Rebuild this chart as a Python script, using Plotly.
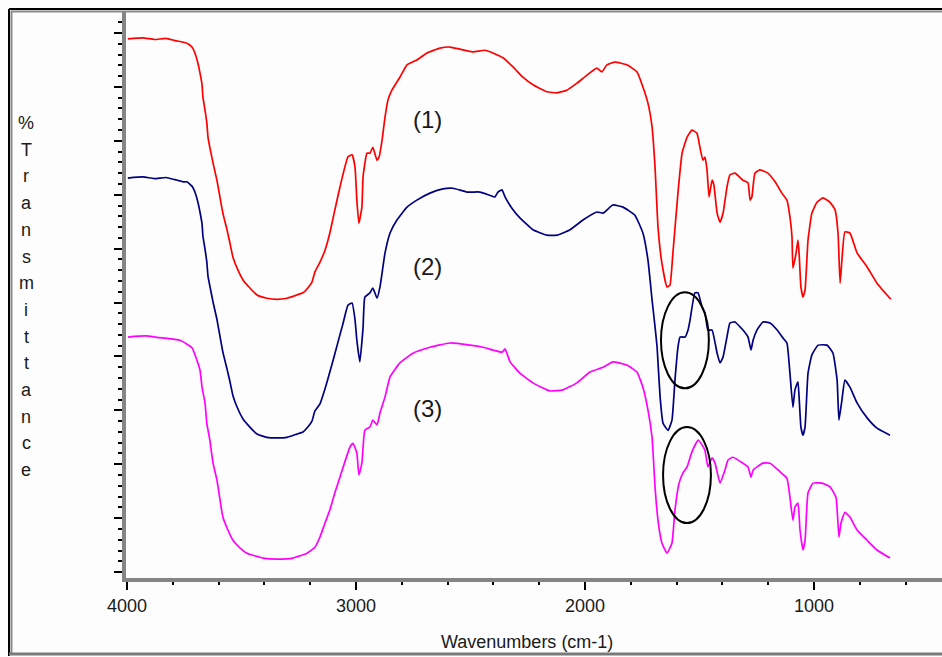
import plotly.graph_objects as go

# ---------------- data ----------------
wn1 = [3996, 3930, 3880, 3830, 3790, 3755, 3738, 3716, 3703, 3690, 3681, 3672, 3668, 3659, 3651, 3646,
       3638, 3624, 3607, 3594, 3581, 3563, 3550, 3537, 3515, 3493, 3463, 3432, 3389, 3345, 3301,
       3258, 3231, 3210, 3192, 3179, 3157, 3135, 3114, 3092, 3070, 3035, 3017, 3004, 2996, 2987,
       2974, 2969, 2952, 2939, 2926, 2908, 2899, 2886, 2873, 2860, 2843, 2808, 2777, 2734, 2690,
       2633, 2589, 2546, 2489, 2437, 2402, 2358, 2314, 2271, 2227, 2166, 2122, 2079, 2035, 1991,
       1948, 1926, 1904, 1869, 1817, 1773, 1747, 1725, 1707, 1694, 1681, 1664, 1642, 1629, 1616,
       1594, 1576, 1554, 1533, 1511, 1498, 1485, 1476, 1467, 1458, 1445, 1437, 1423, 1410, 1397,
       1380, 1367, 1345, 1310, 1288, 1279, 1271, 1258, 1236, 1201, 1170, 1140, 1118, 1105, 1096,
       1092, 1078, 1070, 1065, 1057, 1048, 1039, 1026, 1009, 987, 961, 930, 908, 895, 886, 878,
       865, 843, 812, 768, 725, 664]
t1 = [98.9, 99.1, 98.8, 99.0, 98.6, 98.3, 98.1, 97.4, 96.3, 94.4, 92.6, 90.4, 88.1, 85.7, 83.3, 80.7,
      78.8, 75.9, 72.7, 69.6, 66.6, 63.5, 61.0, 58.4, 56.0, 54.2, 52.7, 51.4, 50.8, 50.6, 50.8,
      51.4, 51.8, 52.7, 53.8, 55.7, 57.5, 59.7, 62.9, 67.2, 71.4, 77.0, 77.4, 75.1, 69.0, 64.7,
      67.7, 73.3, 77.7, 77.7, 78.8, 76.4, 77.0, 80.1, 84.4, 87.6, 89.4, 91.8, 94.1, 95.0, 96.3,
      97.2, 97.4, 97.0, 96.5, 96.8, 96.3, 95.4, 93.7, 91.8, 90.4, 89.1, 88.9, 89.4, 90.7, 92.2,
      93.5, 92.8, 94.1, 94.6, 94.1, 92.8, 90.0, 87.0, 82.6, 75.1, 64.0, 57.3, 52.9, 53.2, 59.2,
      70.3, 77.7, 80.7, 82.0, 81.4, 78.8, 76.4, 77.0, 74.6, 69.6, 72.7, 71.8, 66.6, 64.9, 66.6,
      71.4, 73.7, 74.0, 72.7, 72.2, 69.0, 69.6, 74.0, 74.6, 74.0, 72.4, 70.3, 69.0, 65.9, 62.2,
      56.4, 59.2, 61.6, 59.2, 52.9, 51.0, 52.3, 61.6, 66.6, 68.6, 69.4, 68.6, 67.2, 62.9, 53.6, 57.9,
      63.1, 62.9, 59.2, 56.6, 53.6, 50.6]

wn2 = [3996, 3930, 3880, 3830, 3790, 3755, 3738, 3716, 3703, 3690, 3681, 3672, 3668, 3659, 3651, 3646,
       3638, 3624, 3607, 3594, 3581, 3563, 3550, 3537, 3515, 3493, 3463, 3432, 3389, 3345, 3301,
       3258, 3231, 3210, 3192, 3179, 3157, 3135, 3114, 3092, 3070, 3057, 3035, 3017, 3004, 2996,
       2983, 2969, 2961, 2939, 2926, 2908, 2895, 2873, 2851, 2821, 2777, 2734, 2677, 2620, 2576,
       2515, 2458, 2415, 2393, 2380, 2362, 2349, 2319, 2284, 2227, 2166, 2122, 2065, 2009, 1948,
       1921, 1878, 1834, 1782, 1747, 1725, 1707, 1694, 1685, 1672, 1659, 1637, 1620, 1607, 1594,
       1585, 1563, 1550, 1541, 1520, 1506, 1489, 1476, 1463, 1445, 1423, 1410, 1397, 1380, 1367,
       1345, 1323, 1310, 1288, 1275, 1266, 1249, 1223, 1192, 1161, 1135, 1118, 1105, 1092, 1083,
       1070, 1065, 1057, 1048, 1039, 1026, 1009, 982, 943, 917, 899, 891, 878, 865, 843, 812, 768,
       725, 668]
t2 = [73.1, 73.3, 73.0, 73.2, 72.8, 72.4, 72.4, 71.6, 70.5, 68.6, 66.8, 64.6, 62.3, 59.9, 57.5, 54.9,
      53.1, 50.1, 46.9, 43.8, 40.8, 37.7, 35.3, 32.7, 30.2, 28.4, 26.9, 25.6, 25.0, 24.9, 25.0,
      25.6, 26.0, 26.9, 28.0, 29.9, 31.2, 34.0, 37.1, 40.5, 44.0, 46.0, 49.5, 49.9, 46.8, 43.0,
      39.0, 45.3, 51.0, 51.8, 52.7, 50.8, 52.9, 59.2, 62.9, 65.3, 67.7, 69.0, 70.3, 71.1, 71.2,
      70.5, 70.5, 69.9, 69.6, 70.5, 70.9, 69.6, 67.5, 65.7, 63.5, 62.5, 62.5, 63.5, 65.3, 66.8,
      66.6, 68.1, 67.7, 66.2, 62.9, 57.9, 50.5, 45.5, 41.7, 32.5, 27.6, 26.3, 28.2, 35.6, 41.7,
      43.6, 43.6, 44.9, 46.8, 51.8, 51.8, 49.2, 48.1, 44.9, 44.9, 40.6, 38.8, 39.9, 43.6, 46.2,
      46.4, 45.5, 44.9, 43.6, 41.2, 43.0, 44.9, 46.4, 46.2, 44.9, 43.4, 42.5, 36.9, 30.6, 33.8,
      35.3, 32.5, 26.9, 25.4, 26.9, 36.9, 40.3, 42.1, 42.1, 40.6, 35.6, 28.2, 31.9, 35.6, 34.3, 31.4,
      28.6, 26.7, 25.4]

wn3 = [3996, 3920, 3860, 3768, 3716, 3681, 3672, 3659, 3651, 3638, 3624, 3607, 3581, 3559, 3537, 3507,
       3476, 3406, 3345, 3275, 3214, 3179, 3157, 3135, 3114, 3092, 3070, 3026, 3013, 2996, 2987,
       2974, 2961, 2939, 2926, 2908, 2895, 2873, 2851, 2808, 2751, 2677, 2589, 2502, 2445, 2402,
       2362, 2349, 2327, 2284, 2227, 2153, 2096, 2035, 1978, 1921, 1878, 1817, 1773, 1747, 1725,
       1707, 1694, 1681, 1664, 1642, 1620, 1607, 1589, 1572, 1554, 1533, 1515, 1506, 1489, 1476,
       1463, 1445, 1432, 1410, 1389, 1375, 1354, 1310, 1288, 1275, 1266, 1223, 1192, 1148, 1118,
       1105, 1092, 1083, 1070, 1061, 1048, 1039, 1026, 1004, 965, 930, 904, 891, 882, 865, 843,
       812, 768, 725, 668]
t3 = [43.6, 43.8, 43.5, 43.0, 41.6, 37.5, 34.3, 31.4, 27.6, 24.5, 20.2, 17.1, 10.2, 7.8, 5.9, 4.5,
      3.5, 2.6, 2.4, 2.6, 3.5, 4.6, 6.5, 9.1, 11.5, 14.7, 17.6, 23.2, 23.9, 22.1, 18.0,
      20.2, 26.3, 26.9, 28.2, 27.3, 29.5, 32.5, 36.2, 38.8, 40.6, 41.7, 42.5, 42.1, 41.7, 41.2,
      40.8, 41.4, 39.0, 36.9, 35.1, 33.6, 33.8, 35.1, 37.1, 38.0, 39.0, 38.4, 37.1, 34.3, 30.1,
      25.0, 15.8, 9.6, 5.4, 3.5, 5.4, 11.5, 16.5, 18.4, 19.5, 22.3, 23.9, 24.5, 23.6, 22.6,
      19.5, 21.2, 20.2, 16.5, 18.9, 20.8, 21.3, 20.2, 19.5, 17.6, 18.9, 20.2, 20.2, 18.6, 17.4,
      13.9, 9.6, 12.1, 12.8, 7.8, 4.1, 5.9, 14.7, 16.5, 16.5, 15.8, 13.9, 6.5, 9.1, 11.1, 10.2,
      7.8, 5.9, 4.1, 2.6]

series_names = ["(1)", "(2)", "(3)"]
series_colors = ["#ff0000", "#000080", "#ff00ff"]
label_pos_wn = 2686
label_pos_t = [83.9, 56.6, 30.4]

x_ticks = [4000, 3000, 2000, 1000]
y_title = "%Transmittance"
x_title = "Wavenumbers (cm-1)"

# ellipses (highlighted regions): wavenumber span and %T span
ellipses = [((1668, 1459), (34.1, 51.9)), ((1659, 1450), (9.1, 26.9))]

# ---------------- layout geometry ----------------
W, H = 942, 657
L, R, T, B = 126, 0, 12, 79
PW, PH = W - L - R, H - T - B


def px(xp):
    return (xp - L) / PW


def py(yp):
    return (H - B - yp) / PH


FONT = "Liberation Sans"
fig = go.Figure()

for wn, tv, c in zip([wn1, wn2, wn3], [t1, t2, t3], series_colors):
    fig.add_trace(go.Scatter(x=wn, y=tv, mode="lines",
                             line=dict(color=c, width=1.7, shape="spline", smoothing=0.4),
                             showlegend=False, hoverinfo="skip"))

annotations = []
for name, yv in zip(series_names, label_pos_t):
    annotations.append(dict(x=label_pos_wn, y=yv, xref="x", yref="y", text=name, showarrow=False,
                            font=dict(family=FONT, size=24, color="#1a1a1a")))

for i, ch in enumerate(y_title):
    annotations.append(dict(x=px(26), y=py(123 + 26.7 * i), xref="paper", yref="paper", text=ch,
                            showarrow=False, xanchor="center", yanchor="middle",
                            font=dict(family=FONT, size=18, color="#1a1a1a")))

annotations.append(dict(x=px(527), y=py(642), xref="paper", yref="paper", text=x_title,
                        showarrow=False, xanchor="center", yanchor="middle",
                        font=dict(family=FONT, size=18, color="#1a1a1a")))

shapes = []
for (xa, xb), (ya, yb) in ellipses:
    shapes.append(dict(type="circle", xref="x", yref="y", x0=xa, x1=xb, y0=ya, y1=yb,
                       line=dict(color="black", width=2)))

# outer frame of the picture
shapes.append(dict(type="line", xref="paper", yref="paper", x0=px(9), x1=px(W + 5), y0=py(9), y1=py(9),
                   line=dict(color="#000000", width=2), layer="above"))
shapes.append(dict(type="line", xref="paper", yref="paper", x0=px(11), x1=px(W + 5), y0=py(11.5), y1=py(11.5),
                   line=dict(color="#8a8a8a", width=2), layer="above"))
shapes.append(dict(type="line", xref="paper", yref="paper", x0=px(9), x1=px(9), y0=py(9), y1=py(656),
                   line=dict(color="#000000", width=2), layer="above"))
shapes.append(dict(type="line", xref="paper", yref="paper", x0=px(11.5), x1=px(11.5), y0=py(11), y1=py(653),
                   line=dict(color="#8a8a8a", width=2), layer="above"))
shapes.append(dict(type="line", xref="paper", yref="paper", x0=px(9), x1=px(W + 5), y0=py(654), y1=py(654),
                   line=dict(color="#7a7a7a", width=3), layer="above"))

fig.update_layout(
    width=W, height=H,
    margin=dict(l=L, r=R, t=T, b=B, pad=0),
    paper_bgcolor="#fdfdfd", plot_bgcolor="#fdfdfd",
    annotations=annotations, shapes=shapes,
    xaxis=dict(range=[4004, 441], showgrid=False, zeroline=False, showline=True,
               linecolor="#858585", linewidth=4, ticks="outside", ticklen=8, tickwidth=2,
               tickcolor="black", tickvals=x_ticks, ticktext=[str(v) for v in x_ticks],
               tickfont=dict(family=FONT, size=18, color="#1a1a1a"),
               minor=dict(dtick=200, tick0=0, ticks="outside", ticklen=3, tickwidth=2, tickcolor="black")),
    yaxis=dict(range=[-1.1, 103.9], showgrid=False, zeroline=False, showline=True,
               linecolor="#858585", linewidth=4, ticks="outside", ticklen=8, tickwidth=2,
               tickcolor="black", dtick=10, tick0=0, showticklabels=False,
               minor=dict(dtick=2, tick0=0, ticks="outside", ticklen=4, tickwidth=2, tickcolor="black")),
)

fig.write_html("out.html")
